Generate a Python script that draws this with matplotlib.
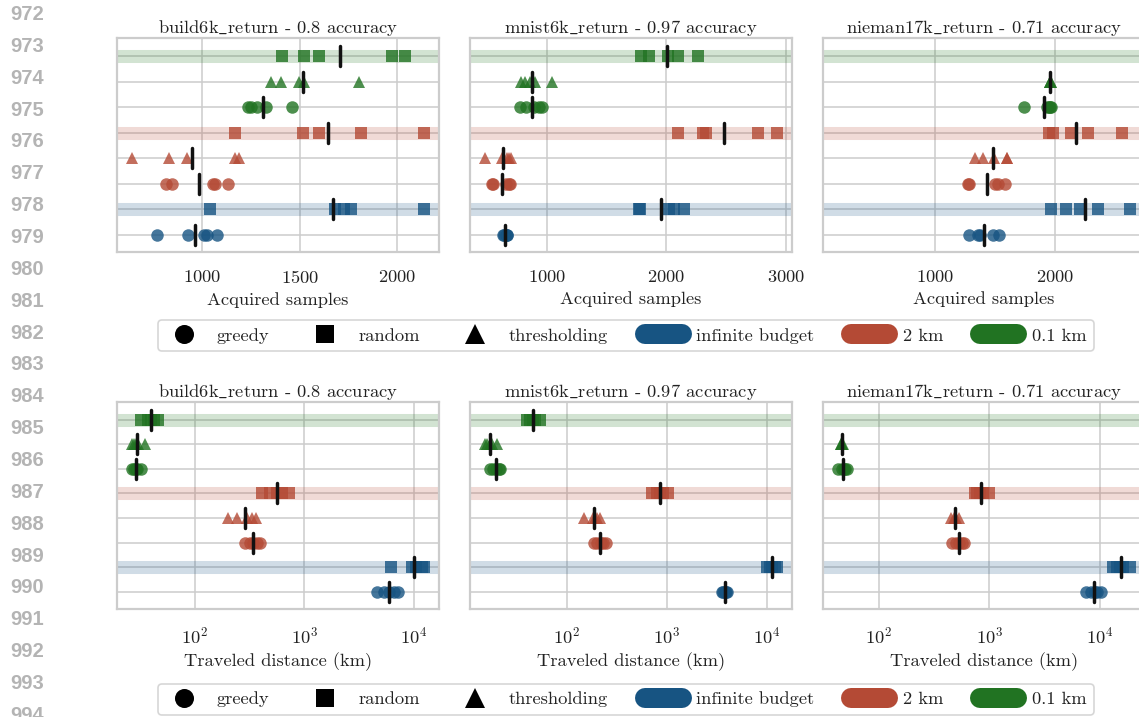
import numpy as np
import matplotlib
matplotlib.use("Agg")
import matplotlib.pyplot as plt
from matplotlib.lines import Line2D
from matplotlib.markers import MarkerStyle
from matplotlib.ticker import NullLocator, LogLocator

# ---------------------------------------------------------------- data
datasets = ["build6k_return", "mnist6k_return", "nieman17k_return"]
accuracies = ["0.8", "0.97", "0.71"]

# row order (top to bottom): budget / strategy
row_budgets = ["0.1 km", "0.1 km", "0.1 km", "2 km", "2 km", "2 km",
               "infinite budget", "infinite budget"]
row_strategies = ["random", "thresholding", "greedy", "random", "thresholding",
                  "greedy", "random", "greedy"]

# acquired samples per run, one list per row
build6k_samples = [
    [1411, 1523, 1597, 1971, 2041],
    [1351, 1404, 1497, 1520, 1806],
    [1236, 1248, 1279, 1325, 1461],
    [1169, 1515, 1597, 1814, 2139],
    [637, 828, 921, 1167, 1186],
    [811, 845, 1055, 1065, 1133],
    [1040, 1680, 1726, 1761, 2139],
    [769, 928, 1007, 1024, 1076],
]
mnist6k_samples = [
    [1789, 1851, 2014, 2098, 2264],
    [778, 812, 854, 896, 1039],
    [770, 820, 888, 933, 952],
    [2096, 2306, 2329, 2770, 2930],
    [475, 623, 666, 680, 694],
    [534, 545, 657, 680, 691],
    [1770, 1781, 2017, 2062, 2146],
    [630, 640, 650, 660, 665],
]
nieman17k_samples = [
    [],
    [1955, 1958, 1961, 1963, 1965],
    [1742, 1935, 1950, 1960, 1968],
    [1947, 1981, 2131, 2272, 2558],
    [1331, 1400, 1495, 1600, 1603],
    [1272, 1280, 1503, 1522, 1580],
    [1967, 2089, 2206, 2356, 2622],
    [1281, 1358, 1378, 1483, 1533],
]

# traveled distance (km) per run, one list per row
build6k_distance = [
    [32.1, 37.0, 39.7, 42.6, 46.6],
    [26.5, 27.9, 29.3, 30.6, 35.2],
    [26.9, 27.9, 28.9, 29.9, 32.1],
    [406, 485, 559, 621, 726],
    [201, 243, 300, 330, 361],
    [286, 318, 341, 366, 393],
    [6195, 9530, 10440, 11750, 12440],
    [4570, 5335, 5930, 6595, 7080],
]
mnist6k_distance = [
    [39.9, 43.1, 45.8, 48.3, 53.4],
    [15.1, 15.9, 16.9, 17.8, 20.0],
    [17.2, 18.5, 19.7, 20.8, 21.6],
    [706, 791, 855, 923, 1035],
    [147, 182, 192, 202, 215],
    [185, 202, 218, 232, 245],
    [9930, 10720, 11310, 12020, 12680],
    [3523, 3663, 3777, 3898, 4018],
]
nieman17k_distance = [
    [],
    [45.5, 46.2, 46.7, 47.1, 47.5],
    [42.7, 46.7, 48.3, 50.0, 51.8],
    [741, 778, 828, 875, 990],
    [450, 479, 490, 501, 533],
    [465, 498, 530, 563, 592],
    [13250, 14190, 15100, 16280, 18930],
    [7500, 8318, 9020, 9530, 10350],
]

samples_tables = [build6k_samples, mnist6k_samples, nieman17k_samples]
distance_tables = [build6k_distance, mnist6k_distance, nieman17k_distance]
sample_ticks = [[1000, 1500, 2000], [1000, 2000, 3000], [1000, 2000]]

budget_colors = {"infinite budget": "#175482", "2 km": "#b44a35",
                 "0.1 km": "#217322"}
strategy_markers = {"greedy": "o", "random": "s", "thresholding": "^"}
margin_line_numbers = list(range(972, 995))

# ---------------------------------------------------------------- style
FS = 13.3
plt.rcParams.update({
    "font.family": ["cmr10", "DejaVu Serif"],
    "mathtext.fontset": "cm",
    "axes.formatter.use_mathtext": True,
    "font.size": FS,
    "axes.unicode_minus": False,
})
GRID_C = "#cccccc"
TEXT_C = "#222222"

W, H = 1139, 717
fig = plt.figure(figsize=(W / 100, H / 100), dpi=100)


def px_axes(left, top, width, height):
    return fig.add_axes([left / W, 1 - (top + height) / H, width / W, height / H])


def panel_title(k):
    # cmr10 has no underscore glyph, so typeset it in math mode
    name = datasets[k].replace("_", r"$\_$")
    return f"{name} - {accuracies[k]} accuracy"


lefts = [117, 470, 823]
AX_W = 322
mean_marker = MarkerStyle("|", capstyle="round")


def style_axes(ax):
    ax.set_axisbelow(True)
    ax.grid(True, color=GRID_C, lw=1.1)
    for s in ax.spines.values():
        s.set_color(GRID_C)
        s.set_linewidth(1.6)
    ax.tick_params(length=0, labelsize=FS, pad=12, colors=TEXT_C)
    ax.set_yticks(range(len(row_budgets)))
    ax.set_yticklabels([])
    ax.set_ylim(len(row_budgets) - 1 + 0.7, -0.7)


def draw_rows(ax, table):
    for i, vals in enumerate(table):
        color = budget_colors[row_budgets[i]]
        if row_strategies[i] == "random":
            ax.axhline(i, color=color, alpha=0.2, lw=9.4, zorder=1)
        if len(vals) == 0:
            continue
        ax.plot(vals, [i] * len(vals), ls="none",
                marker=strategy_markers[row_strategies[i]], ms=9,
                mew=0, color=color, alpha=0.8, zorder=3)
        ax.plot([np.mean(vals)], [i], ls="none", marker=mean_marker, ms=14,
                mew=2.5, color="#111111", zorder=4)


# top row: acquired samples
for k in range(3):
    ax = px_axes(lefts[k], 38.3, AX_W, 214.2)
    style_axes(ax)
    draw_rows(ax, samples_tables[k])
    ax.set_xticks(sample_ticks[k])
    if k == 2:
        ax.set_xlim(67, 2750)
    ax.set_title(panel_title(k), fontsize=FS, pad=4, color=TEXT_C)
    ax.set_xlabel("Acquired samples", fontsize=FS, labelpad=4, color=TEXT_C)

# bottom row: traveled distance
for k in range(3):
    ax = px_axes(lefts[k], 402.3, AX_W, 207)
    style_axes(ax)
    ax.set_xscale("log")
    draw_rows(ax, distance_tables[k])
    ax.xaxis.set_major_locator(LogLocator(base=10, numticks=10))
    ax.xaxis.set_minor_locator(NullLocator())
    ax.set_title(panel_title(k), fontsize=FS, pad=4, color=TEXT_C)
    ax.set_xlabel("Traveled distance (km)", fontsize=FS, labelpad=4, color=TEXT_C)

# legends
handles = [
    Line2D([], [], ls="none", marker="o", ms=13.7, color="black", mew=0),
    Line2D([], [], ls="none", marker="s", ms=12.7, color="black", mew=0),
    Line2D([], [], ls="none", marker="^", ms=13.7, color="black", mew=0),
]
labels = ["greedy", "random", "thresholding"]
for b in ["infinite budget", "2 km", "0.1 km"]:
    handles.append(Line2D([], [], color=budget_colors[b], lw=14.4,
                          solid_capstyle="round"))
    labels.append(b)

for yc in [335.8, 699.5]:
    leg = fig.legend(handles, labels, loc="center", ncol=6,
                     bbox_to_anchor=(626 / W, 1 - yc / H), fontsize=FS,
                     frameon=True, fancybox=True, handlelength=2.0,
                     handletextpad=0.8, columnspacing=2.0, borderpad=0.4)
    leg.get_frame().set_edgecolor(GRID_C)
    leg.get_frame().set_linewidth(1.2)
    for t in leg.get_texts():
        t.set_color(TEXT_C)

# margin line numbers
for i, n in enumerate(margin_line_numbers):
    fig.text(10 / W, 1 - (13 + 31.86 * i + 7) / H, str(n),
             family="Liberation Sans", weight="bold", fontsize=14.5,
             color="#b4b4b4", ha="left", va="baseline")

fig.savefig("out.png", dpi=100)
